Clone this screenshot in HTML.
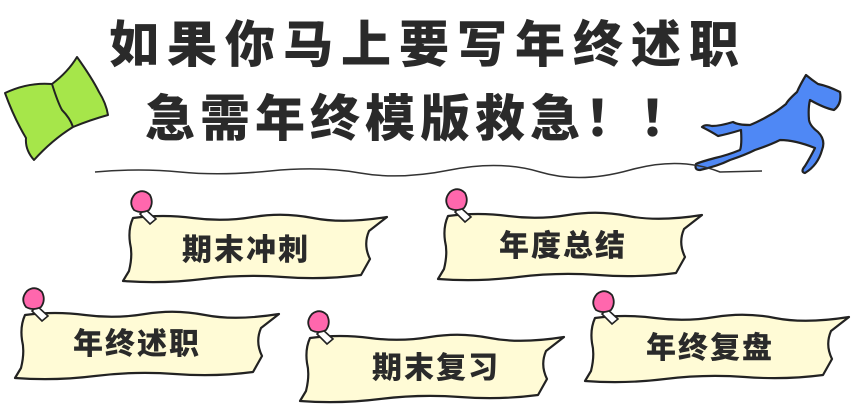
<!DOCTYPE html>
<html><head><meta charset="utf-8"><style>
html,body{margin:0;padding:0;background:#fff;}
svg{display:block;}
text{font-family:"Liberation Sans","Noto Sans CJK SC",sans-serif;font-weight:900;fill:#2a2a2a;}
</style></head><body>
<svg width="853" height="413" viewBox="0 0 853 413" xmlns="http://www.w3.org/2000/svg">
<defs>
<g id="note">
<path d="M10,3 Q40,-1 70,3 T130,2 T190,3 T264,2 L246,16 Q240,30 247,44 L238,60 Q200,65 160,62 T80,64 T0,66 L6,56 Q10,40 7,28 Q5,14 10,3 Z" fill="#fffbd6" stroke="#222" stroke-width="2.2" stroke-linejoin="round"/>
<path d="M22,-6 L33,4 L27,9 L17,-1 Z" fill="#fff" stroke="#222" stroke-width="1.6"/>
<path d="M12,-21 Q20,-27 27,-20 Q31,-12 26,-5 Q18,-1 11,-5 Q5,-13 12,-21 Z" fill="#ff67ad" stroke="#222" stroke-width="1.8"/>
</g>
</defs>
<!-- leaf -->
<path d="M5,93 Q28,82 52,84 Q68,72 77,57 Q92,78 99,92 Q106,103 108,115 Q90,120 73,127 Q52,140 34,160 Q25,150 26,138 Q14,118 5,93 Z" fill="#a6e64a" stroke="#222" stroke-width="2" stroke-linejoin="round"/>
<path d="M52,84 Q58,103 62,110 Q70,118 73,127" fill="none" stroke="#222" stroke-width="2"/>
<!-- horse -->
<path d="M806,75 Q800,85 797,92 Q788,100 786,104 Q776,112 770,115 Q758,122 750,125 Q738,125 733,122 Q720,126 712,126 Q705,124 702,127 Q712,132 718,136 Q728,134 741,130 Q742,145 740,150 Q728,155 715,158 Q700,162 696,164 Q694,170 700,170 Q718,166 730,160 Q745,155 755,150 Q770,145 780,140 Q795,140 815,148 Q810,158 805,166 Q800,172 805,173 Q818,165 822,150 Q826,140 818,132 Q810,126 809,120 Q808,108 810,100 Q824,108 834,110 Q842,104 840,92 Q828,86 818,84 Q812,80 806,75 Z" fill="#4f88f5" stroke="#222" stroke-width="2.2" stroke-linejoin="round"/>
<!-- title -->
<text x="428" y="62" font-size="50" text-anchor="middle" letter-spacing="8">如果你马上要写年终述职</text>
<text x="420" y="136" font-size="50" text-anchor="middle" letter-spacing="5">急需年终模版救急！！</text>
<path d="M95,172 Q140,168 180,172 T270,171 T360,173 T450,170 T540,172 T630,170 T720,172 L762,171" fill="none" stroke="#333" stroke-width="1.5"/>
<!-- notes -->
<use href="#note" x="123" y="215"/>
<text x="246" y="260" font-size="30" text-anchor="middle" letter-spacing="2">期末冲刺</text>
<use href="#note" x="438" y="213"/>
<text x="563" y="256" font-size="30" text-anchor="middle" letter-spacing="2">年度总结</text>
<use href="#note" x="15" y="312"/>
<text x="137" y="354" font-size="30" text-anchor="middle" letter-spacing="2">年终述职</text>
<use href="#note" x="300" y="335"/>
<text x="436" y="378" font-size="30" text-anchor="middle" letter-spacing="2">期末复习</text>
<use href="#note" x="585" y="315"/>
<text x="710" y="358" font-size="30" text-anchor="middle" letter-spacing="2">年终复盘</text>
</svg>
</body></html>
